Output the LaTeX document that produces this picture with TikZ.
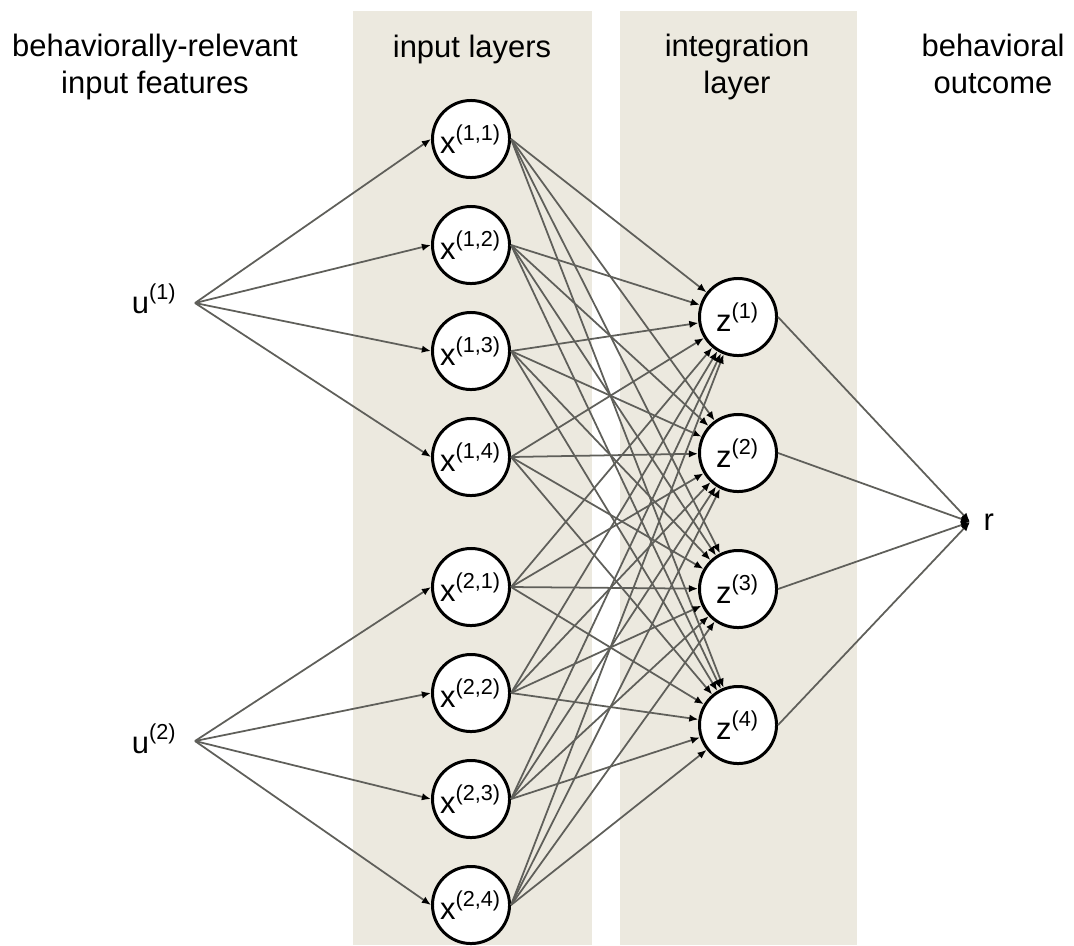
\documentclass[tikz,border=0pt]{standalone}
\usepackage{fontspec}
\setmainfont{Liberation Sans}
\usetikzlibrary{arrows.meta}

\definecolor{panel}{RGB}{236,233,223}
\definecolor{wire}{RGB}{95,95,90}

\begin{document}
\begin{tikzpicture}[x=0.01cm,y=-0.01cm,>={Latex[length=2.6pt,width=2.1pt,color=black]},
    font=\fontsize{8.8}{10.24}\selectfont,
    neuron/.style={circle,draw,line width=0.85pt,fill=white,minimum size=0.77cm,inner sep=0pt},
    wire/.style={draw=wire,line width=0.5pt},
    head/.style={align=center,anchor=base}]
  \useasboundingbox (0,0) rectangle (1074,945);
  % shaded layers
  \fill[panel] (353,11) rectangle (592,945);
  \fill[panel] (620,11) rectangle (857,945);
  % column titles (base = last line)
  \node[head] (hfeat) at (155,93) {behaviorally-relevant\\input features};
  \node[head] (hin) at (472,57) {input layers};
  \node[head] (hint) at (737,93) {integration\\layer};
  \node[head] (hout) at (993,93) {behavioral\\outcome};
  % features
  \coordinate (u1) at (195,303);
  \coordinate (u2) at (195,741);
  \node[anchor=base east,inner sep=0pt] (u1lab) at (178,313) {u\textsuperscript{(1)}};
  \node[anchor=base east,inner sep=0pt] (u2lab) at (178,753) {u\textsuperscript{(2)}};
  % input layers
  \foreach \g/\k/\y in {1/1/139,1/2/245,1/3/351,1/4/457,2/1/587,2/2/693,2/3/799,2/4/905}
    \node[neuron] (x\g\k) at (471,\y) {x\textsuperscript{(\g,\k)}};
  % integration layer
  \foreach \k/\y in {1/317,2/453,3/589,4/725}
    \node[neuron] (z\k) at (738,\y) {z\textsuperscript{(\k)}};
  % outcome
  \coordinate (r) at (970,522);
  \node[anchor=base west,inner sep=0pt] (rlab) at (983,530) {r};
  % connections
  \foreach \g in {1,2}
    \foreach \k in {1,...,4}
      \draw[wire,->] (u\g) -- (x\g\k.west);
  \foreach \g in {1,2}
    \foreach \k in {1,...,4}
      \foreach \j in {1,...,4}
        \draw[wire,->] (x\g\k.east) -- (z\j);
  \foreach \j in {1,...,4}
    \draw[wire,->] (z\j.east) -- (r);
\end{tikzpicture}
\end{document}
